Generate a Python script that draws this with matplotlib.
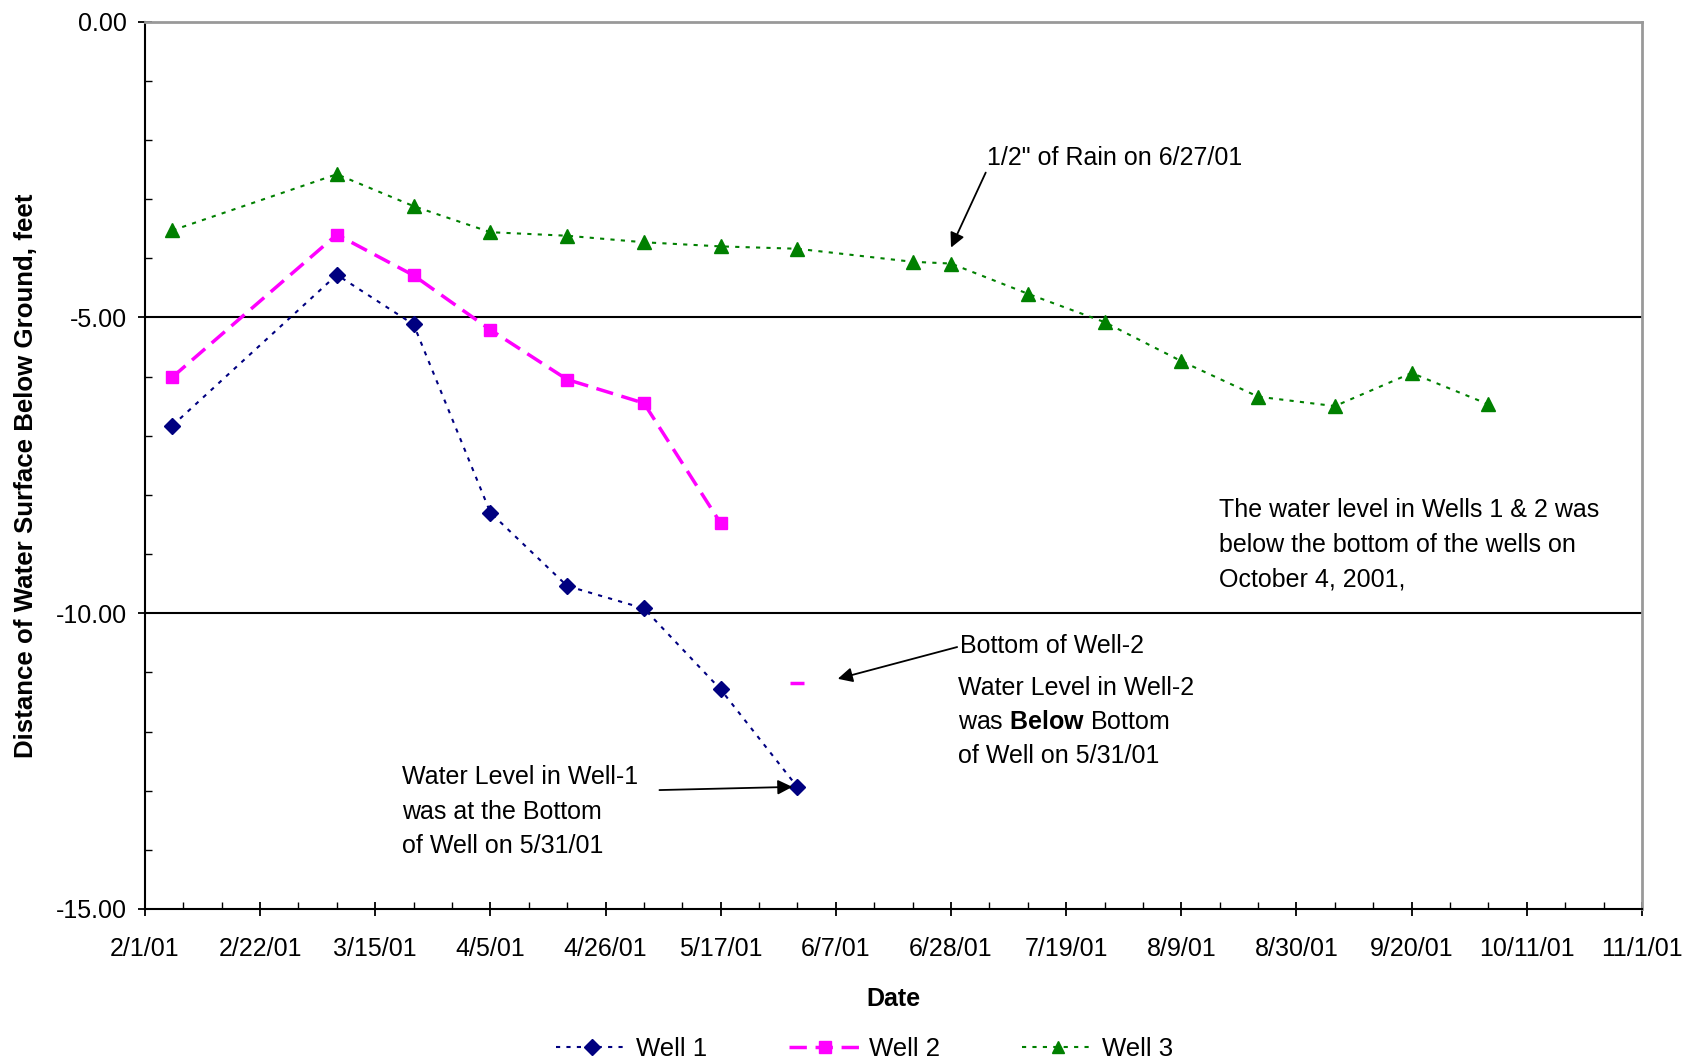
import numpy as np
import pandas as pd
import matplotlib
matplotlib.use("Agg")
import matplotlib.pyplot as plt
import matplotlib.dates as mdates

plt.rcParams['font.family'] = ['Liberation Sans', 'DejaVu Sans']
plt.rcParams['mathtext.fontset'] = 'custom'
plt.rcParams['mathtext.rm'] = 'Liberation Sans'
plt.rcParams['mathtext.bf'] = 'Liberation Sans:bold'

# sampling dates
dates_w12 = pd.to_datetime(['2001-02-06', '2001-03-08', '2001-03-22', '2001-04-05',
                            '2001-04-19', '2001-05-03', '2001-05-17', '2001-05-31'])
dates_w3 = pd.to_datetime(['2001-02-06', '2001-03-08', '2001-03-22', '2001-04-05',
                           '2001-04-19', '2001-05-03', '2001-05-17', '2001-05-31',
                           '2001-06-21', '2001-06-28', '2001-07-12', '2001-07-26',
                           '2001-08-09', '2001-08-23', '2001-09-06', '2001-09-20',
                           '2001-10-04'])

# water level below ground, feet
well1 = [-6.83, -4.28, -5.12, -8.30, -9.54, -9.92, -11.29, -12.94]
well2 = [-6.01, -3.60, -4.29, -5.21, -6.05, -6.45, -8.48]
well2_bottom_date = pd.to_datetime(['2001-05-31'])
well2_bottom = [-11.18]
well3 = [-3.53, -2.58, -3.12, -3.56, -3.62, -3.73, -3.80, -3.84, -4.06,
         -4.09, -4.60, -5.08, -5.74, -6.34, -6.50, -5.94, -6.47]

x_start = pd.Timestamp('2001-02-01')
x_end = pd.Timestamp('2001-11-01')

# # # # # # # # # # # # # # # # # # # # # # # # # # # # # # # # # # # # # # #

fig = plt.figure(figsize=(16.95, 10.64), dpi=100)
ax = fig.add_axes([0.0855, 0.1457, 0.9687 - 0.0855, 0.9797 - 0.1457])

ax.plot(dates_w12, well1, color='#000080', ls=(0, (2, 3)), lw=1.5,
        marker='D', ms=8.5, label='Well 1')
ax.plot(dates_w12[:len(well2)], well2, color='#FF00FF', ls=(0, (5, 2.5)), lw=2.5,
        marker='s', ms=9, label='Well 2')
ax.plot(well2_bottom_date, well2_bottom, color='#FF00FF', ls='none',
        marker='_', ms=10, mew=2.5)
ax.plot(dates_w3, well3, color='#008000', ls=(0, (2, 3)), lw=1.5,
        marker='^', ms=9.5, label='Well 3')

# axes
ax.set_xlim(x_start, x_end)
ax.set_ylim(-15, 0)
ax.set_xticks(pd.date_range(x_start, x_end, freq='21D'))
ax.set_xticks(pd.date_range(x_start, x_end, freq='7D'), minor=True)
ax.xaxis.set_major_formatter(mdates.DateFormatter('%-m/%-d/%y'))
ax.set_yticks([0, -5, -10, -15])
ax.set_yticks(np.arange(-15, 0.5, 1), minor=True)
ax.yaxis.set_major_formatter(plt.FuncFormatter(lambda v, p: '%.2f' % v))
ax.tick_params(which='major', direction='inout', length=10, width=1.3,
               labelsize=18, color='black')
ax.tick_params(which='minor', direction='in', length=5, width=1, color='black')
ax.tick_params(axis='x', which='major', pad=15)
ax.tick_params(axis='y', which='major', pad=8)

for s in ['top', 'right']:
    ax.spines[s].set_color('#999999')
    ax.spines[s].set_linewidth(2)
for s in ['left', 'bottom']:
    ax.spines[s].set_color('black')
    ax.spines[s].set_linewidth(1.5)

for yv in [-5, -10]:
    ax.axhline(yv, color='black', lw=1.5, zorder=0)

ax.set_xlabel('Date', fontsize=18, fontweight='bold', labelpad=19)
ax.set_ylabel('Distance of Water Surface Below Ground, feet', fontsize=18.6,
              fontweight='bold')
ax.yaxis.set_label_coords(-0.0715, 0.488)

# annotations
arrow = dict(arrowstyle='-|>', color='black', lw=1.3, mutation_scale=22,
             shrinkA=0, shrinkB=0)
tsize = 18
lsp = 1.55

ax.annotate('1/2" of Rain on 6/27/01', xy=(pd.Timestamp('2001-06-28'), -3.82),
            xycoords='data', xytext=(0.5625, 0.8465), textcoords='axes fraction',
            ha='left', va='center', fontsize=tsize,
            arrowprops=dict(arrow, relpos=(0.0, 0.0)))

ax.annotate('Bottom of Well-2', xy=(0.4628, 0.2594), xycoords='axes fraction',
            xytext=(0.5444, 0.2960), textcoords='axes fraction',
            ha='left', va='center', fontsize=tsize,
            arrowprops=dict(arrow, relpos=(0.0, 0.5)))

ax.text(0.543, 0.2107, 'Water Level in Well-2\nwas $\\mathbf{Below}$ Bottom\nof Well on 5/31/01',
        transform=ax.transAxes, ha='left', va='center', fontsize=tsize,
        linespacing=lsp)

ax.text(0.1718, 0.1096, 'Water Level in Well-1\nwas at the Bottom\nof Well on 5/31/01',
        transform=ax.transAxes, ha='left', va='center', fontsize=tsize,
        linespacing=lsp)
ax.annotate('', xy=(0.4325, 0.1376), xycoords='axes fraction',
            xytext=(0.3437, 0.1340), textcoords='axes fraction',
            arrowprops=arrow)

ax.text(0.7177, 0.4105, 'The water level in Wells 1 & 2 was\nbelow the bottom of the wells on\nOctober 4, 2001,',
        transform=ax.transAxes, ha='left', va='center', fontsize=tsize,
        linespacing=lsp)

fig.legend(loc='center', bbox_to_anchor=(0.51, 0.014), ncol=3, frameon=False,
           fontsize=18.5, handlelength=2.8, columnspacing=3.2, handletextpad=0.3,
           markerscale=0.9)

fig.savefig('out.png', dpi=100)
